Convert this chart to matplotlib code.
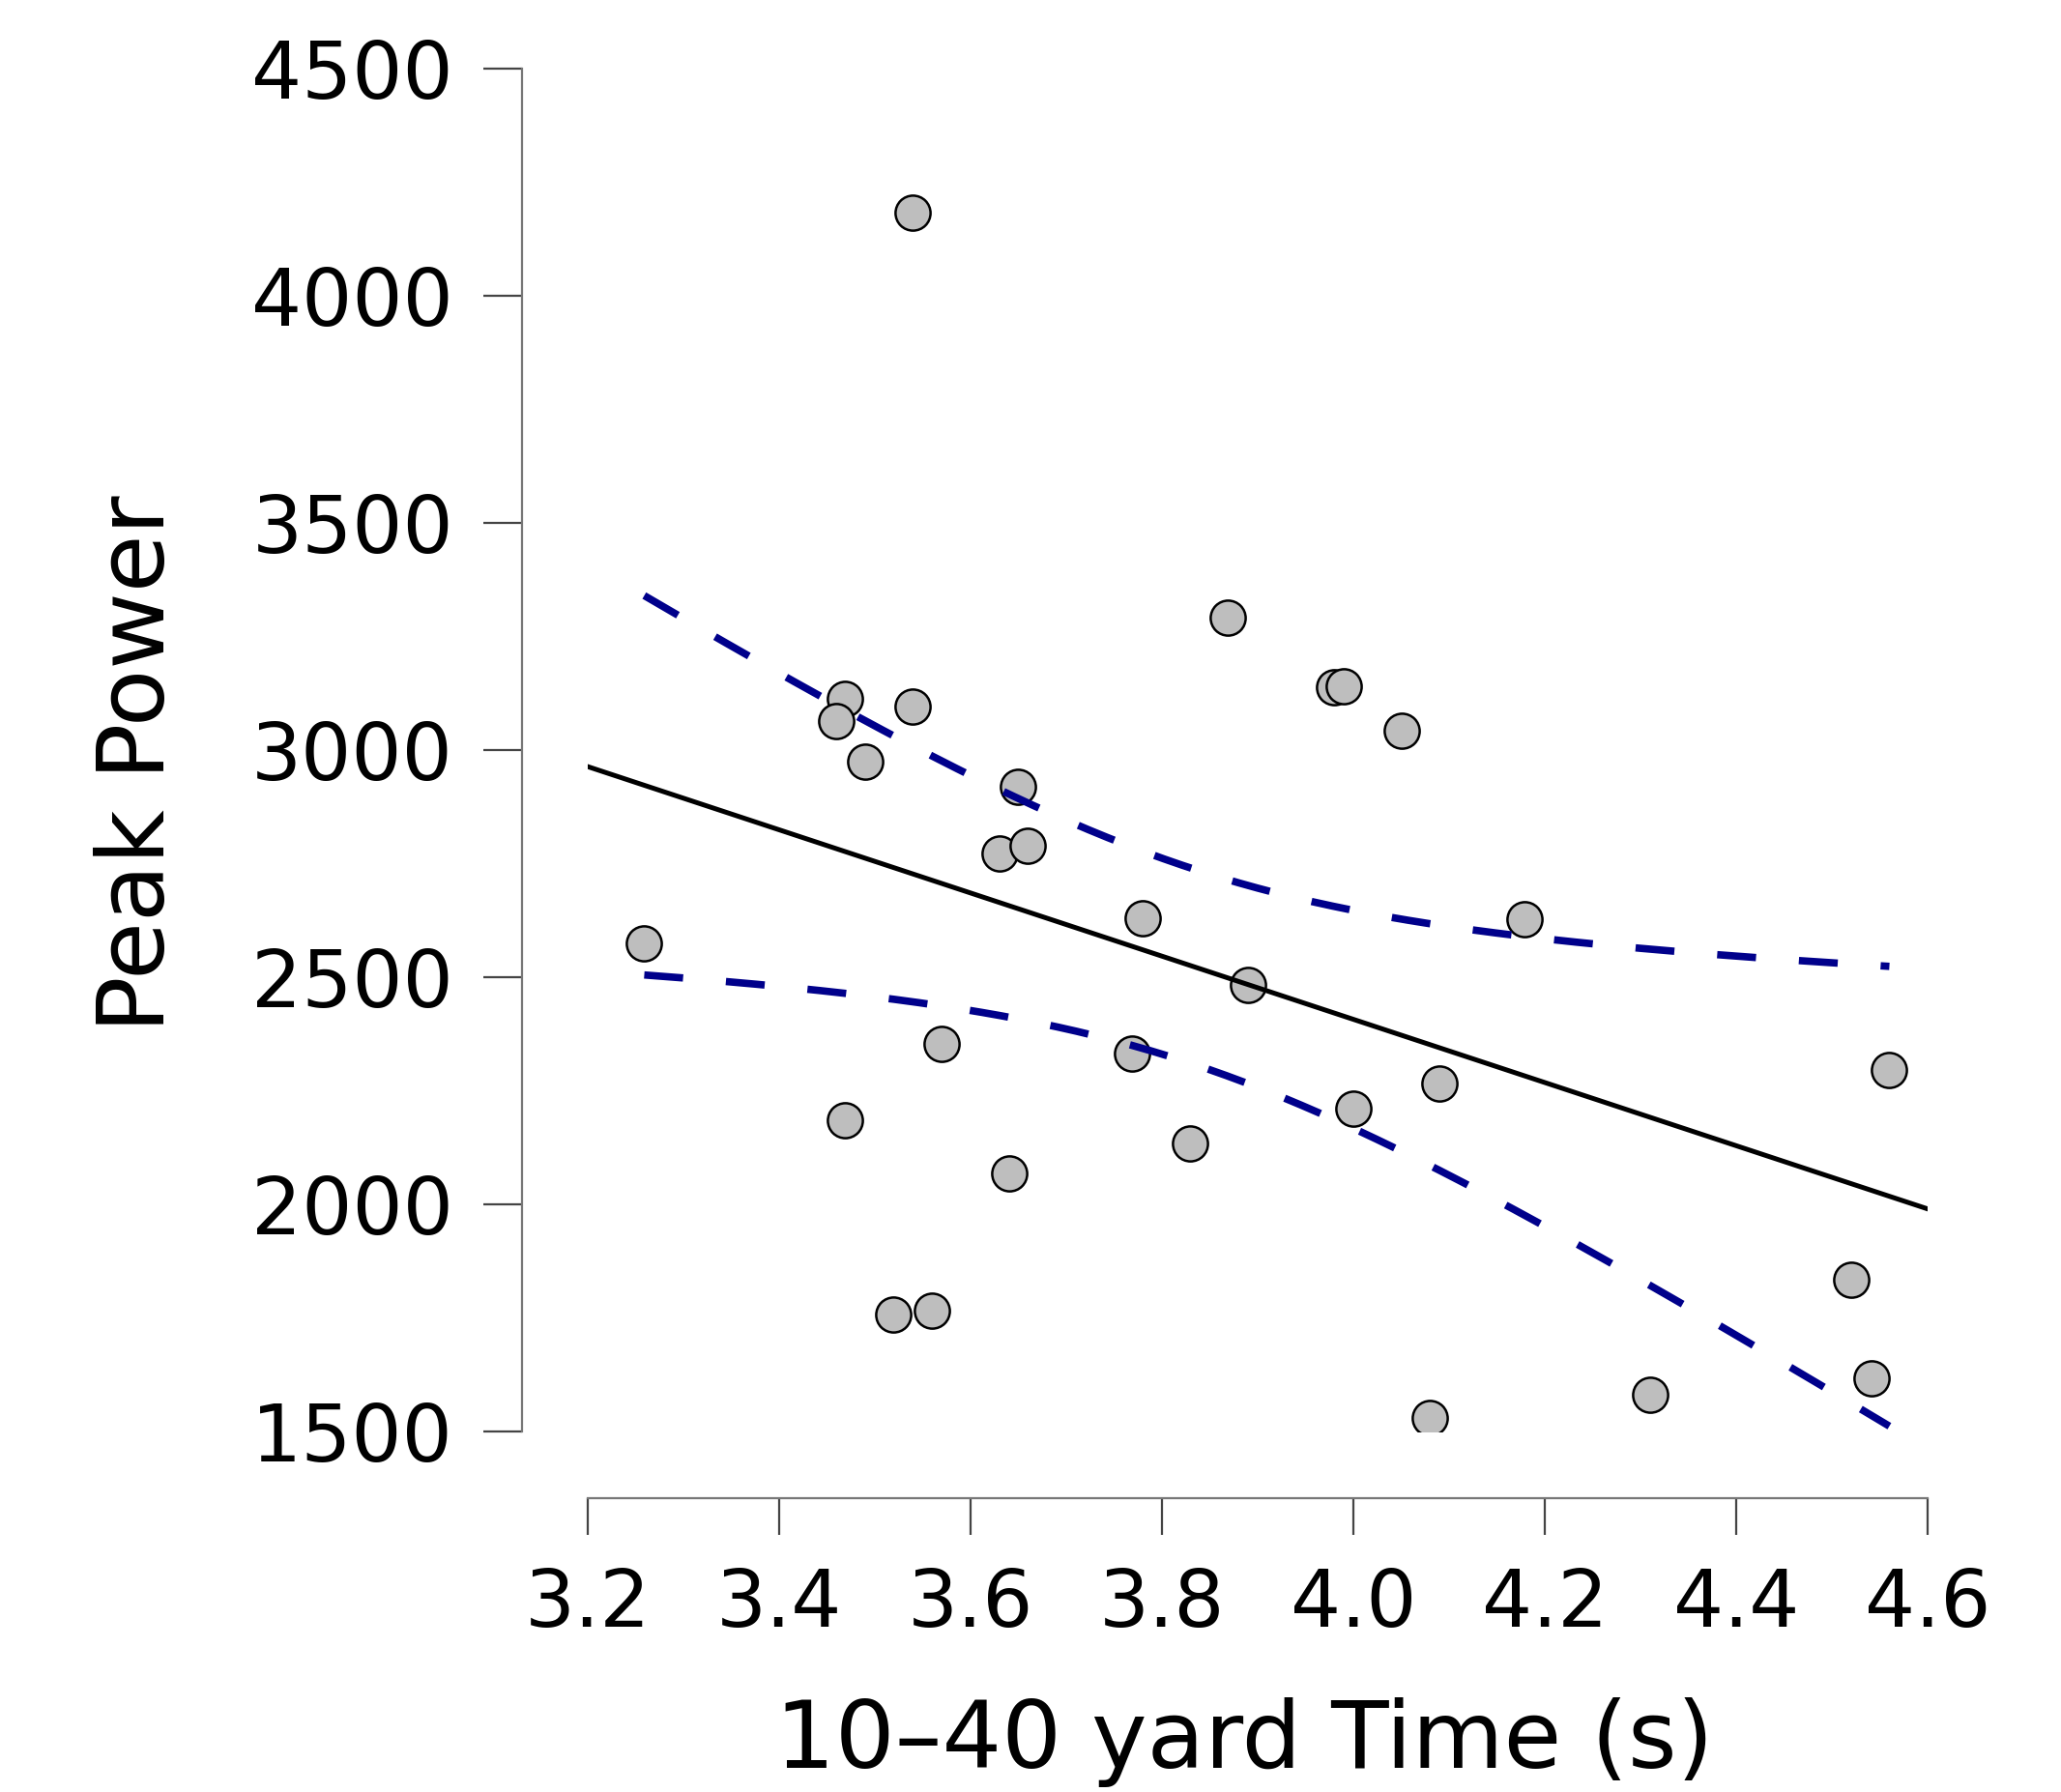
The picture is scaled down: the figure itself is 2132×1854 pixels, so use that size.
import numpy as np
import matplotlib
matplotlib.use("Agg")
import matplotlib.pyplot as plt

# 10-40 yard time (s) and peak power
time_s = [3.539, 3.259, 3.469, 3.460, 3.539, 3.490, 3.649, 3.630, 3.660, 3.780,
          3.869, 3.980, 3.990, 4.050, 3.890, 4.179, 3.570, 3.769, 3.469, 3.640,
          3.829, 4.000, 4.090, 3.519, 3.560, 4.080, 4.310, 4.520, 4.541, 4.560]
peak_power = [4182, 2575, 3113, 3064, 3095, 2974, 2919, 2772, 2789, 2630,
              3292, 3139, 3141, 3043, 2483, 2627, 2353, 2332, 2185, 2069,
              2133, 2211, 2266, 1757, 1766, 1529, 1581, 1835, 1618, 2295]

x_ticks = [3.2, 3.4, 3.6, 3.8, 4.0, 4.2, 4.4, 4.6]
y_ticks = [1500, 2000, 2500, 3000, 3500, 4000, 4500]
t_crit = 2.048  # t(0.975, df=28)

plt.rcParams['font.family'] = ['DejaVu Sans']
plt.rcParams['lines.scale_dashes'] = False

x = np.array(time_s)
y = np.array(peak_power)
n = len(x)
slope, intercept = np.polyfit(x, y, 1)
resid = y - (intercept + slope * x)
s = np.sqrt(np.sum(resid ** 2) / (n - 2))
sxx = np.sum((x - x.mean()) ** 2)

fig = plt.figure(figsize=(21.32, 18.54), dpi=100, facecolor='white')
ax = fig.add_axes([0.2852, 0.2012, 0.6501, 0.7605])

ax.scatter(x, y, s=680, facecolor='#BEBEBE', edgecolor='black', linewidth=1.8, zorder=2)

# fitted line across the full x range
xl = np.array([x_ticks[0], x_ticks[-1]])
ax.plot(xl, intercept + slope * xl, color='black', linewidth=3.6, zorder=3)

# 95% confidence band of the mean
xg = np.linspace(x.min(), x.max(), 200)
fit = intercept + slope * xg
half = t_crit * s * np.sqrt(1 / n + (xg - x.mean()) ** 2 / sxx)
for band in (fit + half, fit - half):
    ax.plot(xg, band, color='#00008B', linewidth=5.5, linestyle=(0, (29, 32)), zorder=3)

ax.set_xlim(x_ticks[0], x_ticks[-1])
ax.set_ylim(y_ticks[0], y_ticks[-1])
ax.set_xticks(x_ticks)
ax.set_xticklabels([f'{v:.1f}' for v in x_ticks])
ax.set_yticks(y_ticks)

for side in ('top', 'right'):
    ax.spines[side].set_visible(False)
ax.spines['left'].set_position(('outward', 49))
ax.spines['bottom'].set_position(('outward', 50))
ax.spines['left'].set_bounds(y_ticks[0], y_ticks[-1])
ax.spines['bottom'].set_bounds(x_ticks[0], x_ticks[-1])
for side in ('left', 'bottom'):
    ax.spines[side].set_color('#777777')
    ax.spines[side].set_linewidth(1.6)

ax.tick_params(axis='y', length=29, width=1.6, color='#444444', pad=22, labelsize=59)
ax.tick_params(axis='x', length=27, width=1.6, color='#444444', pad=24, labelsize=59)

ax.set_xlabel('10\u201340 yard Time (s)', fontsize=70)
ax.xaxis.set_label_coords(0.49, -0.228)
ax.xaxis.label.set_verticalalignment('center')
ax.set_ylabel('Peak Power', fontsize=70)
ax.yaxis.set_label_coords(-0.335, 0.49)
ax.yaxis.label.set_verticalalignment('center')

fig.savefig('out.png', dpi=100, facecolor='white')
